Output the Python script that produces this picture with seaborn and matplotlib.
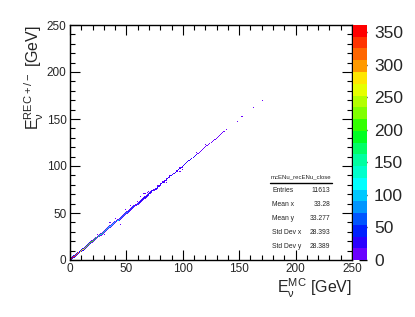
import numpy as np
import pandas as pd
import matplotlib
matplotlib.use("Agg")
import matplotlib.pyplot as plt
import seaborn as sns
from matplotlib.colors import ListedColormap
from matplotlib.lines import Line2D

# ── data: 1 GeV bins, counts ────────────────────────────────
# counts on the diagonal (bin i -> E_MC = E_REC = i)
diag_counts = [
    352, 361, 344, 331, 323, 312, 305, 298, 287, 279,
    271, 262, 258, 249, 241, 233, 228, 219, 212, 206,
    199, 191, 186, 179, 174, 167, 161, 156, 150, 146,
    141, 136, 131, 128, 124, 119, 116, 112, 109, 105,
    102, 99, 95, 92, 89, 86, 83, 81, 78, 76,
    73, 71, 69, 67, 65, 63, 62, 60, 58, 57,
    55, 54, 52, 51, 50, 49, 47, 46, 45, 44,
    43, 42, 41, 41, 40, 39, 38, 37, 37, 36,
    35, 34, 34, 33, 32, 32, 31, 30, 30, 29,
    29, 28, 27, 27, 26, 26, 25, 25, 24, 24,
    23, 23, 22, 22, 21, 21, 21, 20, 20, 20,
    19, 19, 19, 18, 18, 17, 17, 16, 15, 15,
    14, 13, 13, 12, 11, 10, 10, 9, 8, 8,
    7, 6, 6, 5, 4, 4, 3, 0, 2, 0,
]
# one bin above the diagonal (E_REC = E_MC + 1)
upper_counts = [
    41, 38, 35, 37, 33, 30, 32, 28, 27, 29,
    25, 24, 26, 22, 21, 23, 19, 20, 18, 17,
    18, 16, 15, 17, 14, 13, 15, 12, 13, 11,
    12, 10, 11, 9, 10, 8, 9, 8, 7, 8,
    6, 7, 6, 5, 6, 5, 4, 5, 4, 4,
    3, 4, 3, 3, 2, 3, 2, 2, 3, 2,
    2, 1, 2, 1, 3, 4, 3, 2, 1, 1,
    1, 2, 1, 0, 1, 1, 0, 2, 1, 0,
    1, 0, 1, 1, 0, 1, 0, 0, 1, 0,
    0, 1, 0, 0, 1, 0, 0, 1, 0, 0,
]
# one bin below the diagonal (E_REC = E_MC - 1)
lower_counts = [
    0, 36, 39, 34, 31, 33, 29, 30, 26, 25,
    27, 23, 22, 24, 20, 19, 21, 18, 19, 16,
    15, 17, 14, 13, 15, 12, 11, 13, 10, 11,
    9, 10, 8, 9, 7, 8, 7, 6, 7, 5,
    6, 5, 4, 5, 4, 3, 4, 3, 3, 2,
    3, 2, 2, 3, 1, 2, 2, 1, 2, 1,
    1, 2, 1, 1, 2, 1, 1, 2, 1, 1,
    0, 1, 1, 0, 1, 0, 1, 1, 0, 1,
    1, 0, 0, 1, 0, 1, 0, 0, 1, 0,
    0, 0, 1, 0, 0, 1, 0, 0, 0, 1,
]
# scattered cells off the main line
off_x = [44, 65, 66, 68, 69, 53, 49, 77, 88, 97, 99, 59, 35, 30, 24, 112, 120, 85, 40, 62,
         148, 152, 159, 162, 170]
off_y = [37, 70, 70, 71, 72, 57, 53, 79, 91, 94, 96, 62, 39, 27, 27, 114, 122, 82, 44, 67,
         147, 152, 158, 162, 169]
off_counts = [3, 4, 3, 3, 2, 3, 2, 3, 2, 2, 3, 2, 2, 3, 3, 2, 2, 2, 3, 2,
              2, 1, 1, 1, 1]

# stats box
stat_names = ["Entries", "Mean x", "Mean y", "Std Dev x", "Std Dev y"]
stat_values = ["11613", "33.28", "33.277", "28.393", "28.389"]

# 20-level rainbow palette (bottom -> top of the colour bar)
palette_hex = [
    "#6a00ff", "#2a00ff", "#0020ff", "#0055ff", "#0095ff",
    "#00c8ff", "#00ffff", "#00ffcc", "#00ffa0", "#00ff66",
    "#00ff22", "#33ff00", "#80ff00", "#b3ff00", "#e6ff00",
    "#ffe600", "#ff9900", "#ff6600", "#ff3300", "#ff0000",
]
z_max = 361

# ── build the cell table ─────────────────────────────────────
mc, rec, w = [], [], []
for i, c in enumerate(diag_counts):
    mc.append(i + 0.5); rec.append(i + 0.5); w.append(c)
for i, c in enumerate(upper_counts):
    mc.append(i + 0.5); rec.append(i + 1.5); w.append(c)
for i, c in enumerate(lower_counts):
    mc.append(i + 0.5); rec.append(i - 0.5); w.append(c)
for x, y, c in zip(off_x, off_y, off_counts):
    mc.append(x + 0.5); rec.append(y + 0.5); w.append(c)
df = pd.DataFrame({"mc": mc, "rec": rec, "w": w})
df = df[(df["w"] > 0) & (df["rec"] > 0)]

# ── plot ─────────────────────────────────────────────────────
sns.set_style("ticks")
plt.rcParams["font.family"] = ["Liberation Sans", "DejaVu Sans"]
plt.rcParams["mathtext.fontset"] = "custom"
plt.rcParams["mathtext.rm"] = "Liberation Sans"
plt.rcParams["mathtext.it"] = "Liberation Sans:italic"

W, H = 415, 317
fig = plt.figure(figsize=(W / 100, H / 100), dpi=100)
ax = fig.add_axes([70 / W, 1 - 260 / H, 282 / W, 235 / H])
cax = fig.add_axes([353 / W, 1 - 260 / H, 14 / W, 235 / H])

sns.histplot(data=df, x="mc", y="rec", weights="w",
             binwidth=1, binrange=((0, 250), (0, 250)),
             cmap=ListedColormap(palette_hex), vmin=0, vmax=z_max,
             cbar=True, cbar_ax=cax, ax=ax)

ax.set_xlim(0, 250)
ax.set_ylim(0, 250)
ax.set_xlabel("")
ax.set_ylabel("")
ax.set_xticks(range(0, 251, 50))
ax.set_yticks(range(0, 251, 50))
ax.set_xticks(range(0, 251, 10), minor=True)
ax.set_yticks(range(0, 251, 10), minor=True)
ax.tick_params(which="both", direction="in", top=True, right=True,
               width=0.8, color="black", labelsize=8.5)
ax.tick_params(which="major", length=7, pad=2.5)
ax.tick_params(which="minor", length=3.5)
for s in ax.spines.values():
    s.set_linewidth(1)
    s.set_color("black")

cbar = ax.collections[0].colorbar
cbar.outline.set_visible(False)
cax.set_yticks(range(0, 351, 50))
cax.tick_params(direction="in", length=6, width=1, labelsize=12.5, pad=5,
                right=True, left=False, color="black")
cax.minorticks_off()

# axis titles
fig.text(352 / W, 1 - 293 / H, r"$\mathregular{E_{\nu}^{MC}}$ [GeV]",
         ha="right", va="baseline", fontsize=11.5)
fig.text(34 / W, 1 - 25 / H, r"$\mathregular{E_{\nu}^{REC+/-}}$ [GeV]",
         ha="center", va="top", rotation=90, fontsize=11.5)

# stats box
fig.text(301 / W, 1 - 177 / H, "mcENu_recENu_close", ha="center", va="center",
         fontsize=4.3)
fig.add_artist(Line2D([270 / W, 332 / W], [1 - 183 / H] * 2,
                      transform=fig.transFigure, color="black", lw=1))
for k, (name, val) in enumerate(zip(stat_names, stat_values)):
    yy = 1 - (191 + 13.8 * k) / H
    fig.text(272 / W, yy, name, ha="left", va="center", fontsize=4.9)
    fig.text(330 / W, yy, val, ha="right", va="center", fontsize=4.9)

fig.savefig("out.png", dpi=100)
